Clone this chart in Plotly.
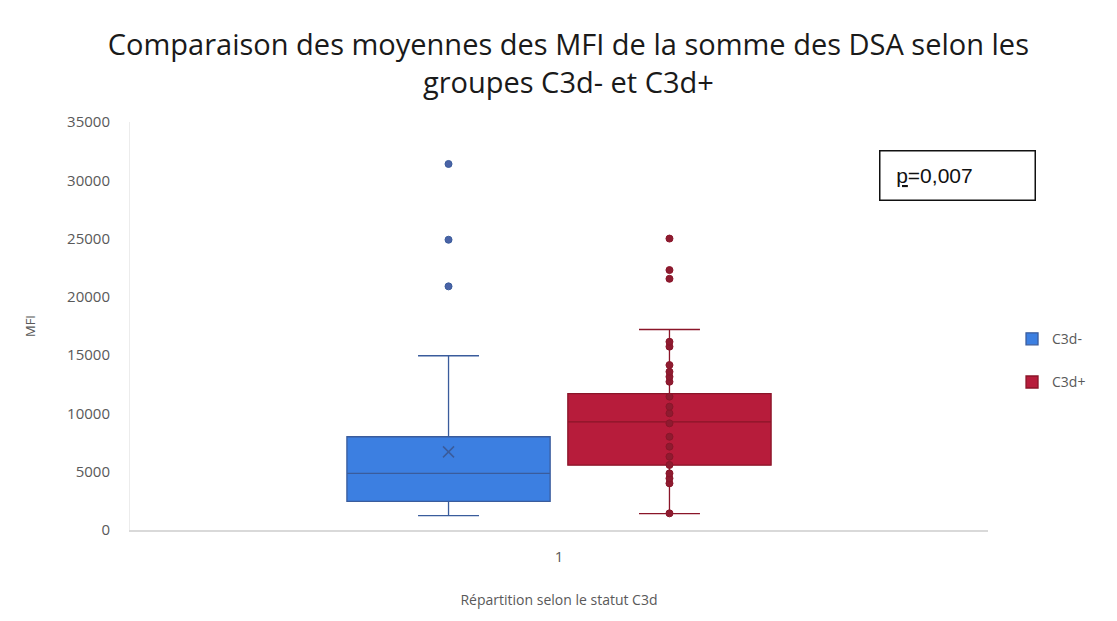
import plotly.graph_objects as go

# categories / groups
categorie = ["1"]
groupes = ["C3d-", "C3d+"]

# precomputed box statistics (MFI)
q1_vals = [2450, 5560]
median_vals = [4850, 9280]
q3_vals = [8000, 11700]
lower_vals = [1230, 1400]
upper_vals = [14950, 17200]
mean_neg = [6700]

# individual points
points_neg = [31400, 24900, 20900]
points_pos = [25000, 22300, 21550, 16150, 15730, 14150, 13580, 13150, 12720,
              11440, 10580, 10010, 9150, 8000, 7150, 6290, 5580, 4860, 4430,
              4000, 1430]

fill_colors = ["#3C7FE1", "#B71C3B"]
line_colors = ["#3A5C9C", "#8A1529"]
point_colors = ["#4A63A6", "#8E1B30"]

fig = go.Figure()

for i, g in enumerate(groupes):
    fig.add_trace(go.Box(
        x=categorie, name=g, offsetgroup=g, legendgroup=g,
        q1=[q1_vals[i]], median=[median_vals[i]], q3=[q3_vals[i]],
        lowerfence=[lower_vals[i]], upperfence=[upper_vals[i]],
        fillcolor=fill_colors[i], line=dict(color=line_colors[i], width=1.3),
        whiskerwidth=0.3, boxpoints=False, showlegend=True
    ))

for i, pts in enumerate([points_neg, points_pos]):
    fig.add_trace(go.Box(
        x=categorie * len(pts), y=pts, name=groupes[i], offsetgroup=groupes[i],
        legendgroup=groupes[i], showlegend=False,
        boxpoints="all", jitter=0, pointpos=0,
        fillcolor="rgba(0,0,0,0)", line=dict(width=0),
        marker=dict(color=point_colors[i], size=7,
                    line=dict(color=line_colors[i], width=1))
    ))

# mean marker for C3d-
fig.add_trace(go.Box(
    x=categorie, y=mean_neg, name=groupes[0], offsetgroup=groupes[0],
    legendgroup=groupes[0], showlegend=False,
    boxpoints="all", jitter=0, pointpos=0,
    fillcolor="rgba(0,0,0,0)", line=dict(width=0),
    marker=dict(symbol="x-thin", size=11, line=dict(color="#3A5C9C", width=1.5))
))

fig.add_annotation(
    xref="paper", yref="paper", x=0.8735, y=0.870, xanchor="left", yanchor="middle",
    text="&nbsp;&nbsp;<span style='text-decoration:underline'>p</span>=0,007",
    showarrow=False, align="left", width=146, height=40, borderpad=4,
    bordercolor="#111111", borderwidth=1.5, bgcolor="white",
    font=dict(family="Liberation Sans, Arial", size=21, color="#111111")
)

fig.update_layout(
    width=1101, height=605,
    title=dict(
        text="Comparaison des moyennes des MFI de la somme des DSA selon les<br>groupes C3d- et C3d+",
        x=0.509, xanchor="center", y=0.922, yanchor="top", automargin=False,
        font=dict(family="Open Sans", size=29, color="#1a1a1a")
    ),
    boxmode="group", boxgap=0.485, boxgroupgap=0.08,
    margin=dict(l=122, r=121, t=114, b=83),
    paper_bgcolor="white", plot_bgcolor="white",
    font=dict(family="Open Sans", color="#595959", size=14),
    legend=dict(x=1.028, y=0.415, xanchor="left", yanchor="middle",
                tracegroupgap=22, font=dict(size=14, color="#595959"),
                itemwidth=30),
    xaxis=dict(
        type="category", range=[-0.5, 0.5], showgrid=False, ticks="",
        showline=True, linecolor="#d9d9d9", linewidth=1.5, automargin=False,
        ticklabelstandoff=12, tickfont=dict(size=15),
        title=dict(text="Répartition selon le statut C3d", standoff=30,
                   font=dict(size=14, color="#595959"))
    ),
    yaxis=dict(
        range=[0, 35000], dtick=5000, tickformat="d", showgrid=False,
        zeroline=False, showline=True, linecolor="#ececec", linewidth=1,
        ticks="", ticklabelstandoff=16, tickfont=dict(size=15), automargin=False,
        title=dict(text="MFI", standoff=28, font=dict(size=13, color="#595959"))
    )
)

fig.write_html("out.html")
